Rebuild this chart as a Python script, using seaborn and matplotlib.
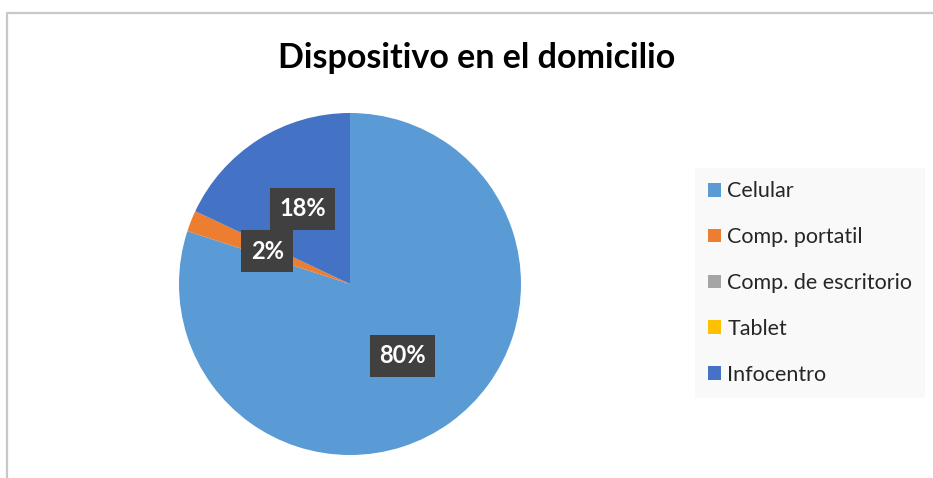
import matplotlib.pyplot as plt
import seaborn as sns
from matplotlib.lines import Line2D

categorias = ['Celular', 'Comp. portatil', 'Comp. de escritorio', 'Tablet', 'Infocentro']
valores = [80, 2, 0, 0, 18]
colores = ['#5B9BD5', '#ED7D31', '#A5A5A5', '#FFC000', '#4472C4']

sns.set_theme(style='white')
plt.rcParams['font.family'] = ['Lato', 'DejaVu Sans']

fig = plt.figure(figsize=(9.33, 4.78), dpi=100)
ax = fig.add_axes([350/933 - 171/933, 1 - (284 + 171)/478, 342/933, 342/478])


def etiqueta(p):
    return '' if p < 0.5 else f'{p:.0f}%'


wedges, textos, autotextos = ax.pie(valores, colors=colores, startangle=90, counterclock=False,
                                    autopct=etiqueta, pctdistance=0.52,
                                    wedgeprops=dict(linewidth=0))
for t in autotextos:
    t.set_color('white')
    t.set_fontsize(17)
    t.set_fontweight('bold')
    if t.get_text():
        t.set_bbox(dict(boxstyle='square,pad=0.4', facecolor='#404040', edgecolor='none'))
ax.set_xlim(-1, 1)
ax.set_ylim(-1, 1)
ax.set_aspect('equal')

fig.text(477/933, 1 - 58/478, 'Dispositivo en el domicilio', ha='center', va='center',
         fontsize=24.5, fontweight='bold', color='black')

leg = fig.legend(wedges, categorias, loc='center left', bbox_to_anchor=(695/933, 1 - 283/478),
                 frameon=True, fontsize=15.5, handlelength=0.6, handleheight=0.6,
                 handletextpad=0.3, labelspacing=1.2, borderpad=0.6, borderaxespad=0,
                 fancybox=False)
leg.get_frame().set_facecolor('#f8f8f8')
leg.get_frame().set_edgecolor('none')

fig.add_artist(Line2D([7/933, 1], [1 - 13/478, 1 - 13/478], color='#c8c8c8', linewidth=1.6))
fig.add_artist(Line2D([7/933, 7/933], [0, 1 - 13/478], color='#c8c8c8', linewidth=1.6))

plt.savefig('out.png', dpi=100)
